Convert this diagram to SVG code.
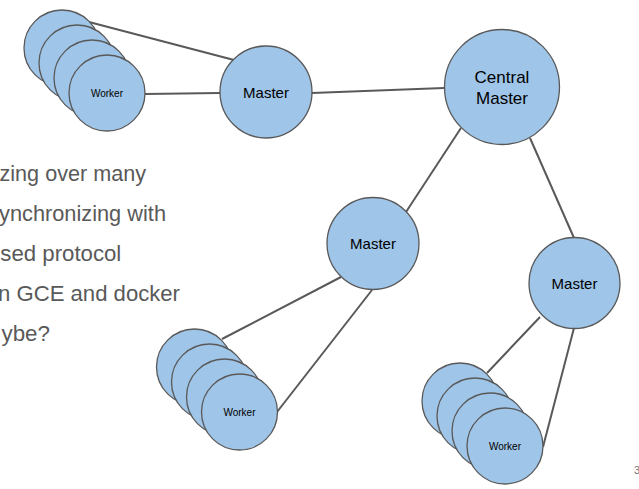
<svg xmlns="http://www.w3.org/2000/svg" width="639" height="489" viewBox="0 0 639 489">
<style>
.n{fill:#9fc5e8;stroke:#595959;stroke-width:1.3}
.c{stroke:#595959;stroke-width:2;fill:none}
.lbl{font-family:"Liberation Sans",Arial,sans-serif;fill:#000;text-anchor:middle}
.body{font-family:"Liberation Sans",Arial,sans-serif;font-size:21.7px;fill:#595959}
</style>
<rect width="639" height="489" fill="#fff"/>
<g id="slide-text">
<text class="body" x="-0.5" y="180.5" textLength="146.5" lengthAdjust="spacingAndGlyphs">zing over many</text>
<text class="body" x="-1" y="220.5" textLength="167" lengthAdjust="spacingAndGlyphs">ynchronizing with</text>
<text class="body" x="0.3" y="260.5" textLength="121" lengthAdjust="spacingAndGlyphs">sed protocol</text>
<text class="body" x="-2" y="300.5" textLength="182" lengthAdjust="spacingAndGlyphs">n GCE and docker</text>
<text class="body" x="1.5" y="340.5" textLength="48.5" lengthAdjust="spacingAndGlyphs">ybe?</text>
<text x="634" y="474" font-family="Liberation Sans,Arial,sans-serif" font-size="11" fill="#757575">3</text>
</g>
<g id="connectors">
<line class="c" x1="89" y1="22" x2="234" y2="60"/>
<line class="c" x1="145" y1="94" x2="220" y2="93"/>
<line class="c" x1="312" y1="93" x2="444" y2="88"/>
<line class="c" x1="461" y1="128" x2="406" y2="212"/>
<line class="c" x1="530" y1="138" x2="574" y2="238"/>
<line class="c" x1="222" y1="339" x2="341" y2="277"/>
<line class="c" x1="372" y1="290" x2="277" y2="412"/>
<line class="c" x1="540" y1="317" x2="487" y2="373"/>
<line class="c" x1="574" y1="328" x2="543" y2="447"/>
</g>
<g id="workers-top">
<circle class="n" cx="62" cy="48" r="38"/>
<circle class="n" cx="77" cy="63" r="38"/>
<circle class="n" cx="92" cy="78" r="38"/>
<circle class="n" cx="107" cy="93" r="38"/>
<text class="lbl" x="107" y="97" font-size="10">Worker</text>
</g>
<g id="master-top">
<circle class="n" cx="266" cy="92" r="46"/>
<text class="lbl" x="266" y="98" font-size="15">Master</text>
</g>
<g id="central-master">
<circle class="n" cx="502" cy="87" r="57.5"/>
<text class="lbl" x="502" y="83" font-size="17">Central</text>
<text class="lbl" x="502" y="104" font-size="17">Master</text>
</g>
<g id="master-mid">
<circle class="n" cx="373" cy="243.5" r="46"/>
<text class="lbl" x="373" y="249" font-size="15">Master</text>
</g>
<g id="master-right">
<circle class="n" cx="574.5" cy="283" r="45.5"/>
<text class="lbl" x="574.5" y="289" font-size="15">Master</text>
</g>
<g id="workers-left">
<circle class="n" cx="194.5" cy="367" r="38"/>
<circle class="n" cx="209.5" cy="382" r="38"/>
<circle class="n" cx="224.5" cy="397" r="38"/>
<circle class="n" cx="239.5" cy="412" r="38"/>
<text class="lbl" x="239.5" y="416" font-size="10">Worker</text>
</g>
<g id="workers-right">
<circle class="n" cx="460" cy="401" r="38"/>
<circle class="n" cx="475" cy="416" r="38"/>
<circle class="n" cx="490" cy="431" r="38"/>
<circle class="n" cx="505" cy="446" r="38"/>
<text class="lbl" x="505" y="450" font-size="10">Worker</text>
</g>
</svg>
